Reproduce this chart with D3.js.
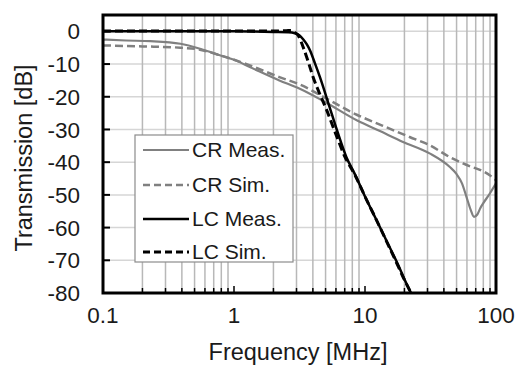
<!DOCTYPE html>
<html>
<head>
<meta charset="utf-8">
<script src="https://cdn.jsdelivr.net/npm/d3@7"></script>
<style>
  html, body { margin: 0; padding: 0; background: #fff; }
  svg { display: block; font-family: "Liberation Sans", Arial, sans-serif; }
</style>
</head>
<body>
<svg id="chart" width="516" height="365"></svg>
<script>
// ---- data ----
const crMeasFreq = [0.1, 0.15, 0.23, 0.39, 0.55, 0.78, 1.0, 1.32, 2.22, 3.15, 4.95, 8.65, 13, 19.5, 31.1, 44.2, 49.7, 55, 59.5, 64, 68, 72, 76, 79.8, 90, 100];
const crMeasDb   = [-2.5, -2.8, -3.0, -3.8, -5.3, -7.3, -8.7, -10.9, -15.0, -17.5, -21.6, -27.2, -30.5, -33.8, -37.3, -41.4, -43.5, -46.5, -50.6, -54.5, -56.7, -56.0, -54.0, -52.6, -49.5, -46.5];

const crSimFreq = [0.1, 0.2, 0.39, 0.55, 0.78, 1.32, 2.22, 3.15, 4.95, 8.65, 13, 21.9, 31.1, 44.2, 56, 89.6, 100];
const crSimDb   = [-4.3, -4.6, -5.0, -5.6, -7.3, -10.4, -14.0, -16.2, -20.3, -25.5, -28.5, -32.3, -34.8, -38.4, -40.4, -44.0, -45.5];

const lcMeasFreq = [0.1, 0.3, 1, 2, 2.6, 2.92, 3.15, 3.37, 3.6, 3.8, 4.15, 4.53, 5.35, 6.2, 7.2, 8.4, 10, 12, 15, 18, 20, 22.6];
const lcMeasDb   = [0, 0, 0, -0.2, -0.3, -0.6, -1.2, -2.4, -4.0, -5.8, -9.8, -14.0, -23.0, -31.0, -38.4, -43.8, -50.5, -57.0, -65.0, -71.6, -75.8, -80.2];

const lcSimFreq = [0.1, 0.3, 1, 2, 2.5, 2.75, 2.9, 3.1, 3.37, 3.7, 4.02, 4.5, 5.1, 6, 7, 8.4, 10, 12, 15, 18, 20, 22.8];
const lcSimDb   = [0.1, 0.1, 0.1, 0.1, 0.2, 0.3, -0.3, -1.3, -4.8, -9.5, -14.0, -19.0, -24.1, -31.5, -38.2, -44.0, -50.5, -57.0, -65.2, -72.0, -76.0, -80.5];

const xTickValues = [0.1, 1, 10, 100];
const xTickLabels = ["0.1", "1", "10", "100"];
const yTickValues = [0, -10, -20, -30, -40, -50, -60, -70, -80];
const legendLabels = ["CR Meas.", "CR Sim.", "LC Meas.", "LC Sim."];

// ---- layout ----
const svg = d3.select("#chart");
const L = 103, R = 496, T = 15, B = 293;
const x = d3.scaleLog().domain([0.1, 100]).range([L, R]);
const y = d3.scaleLinear().domain([-80, 5]).range([B, T]);

// minor values
const minors = [];
[0.1, 1, 10].forEach(d => { for (let k = 2; k <= 9; k++) minors.push(+(d * k).toFixed(3)); });

svg.append("defs").append("clipPath").attr("id", "clip")
  .append("rect").attr("x", L).attr("y", T).attr("width", R - L).attr("height", B - T);

// horizontal gridlines
svg.append("g").selectAll("line").data(yTickValues.filter(v => v > -80)).join("line")
  .attr("x1", L).attr("x2", R).attr("y1", d => y(d)).attr("y2", d => y(d))
  .attr("stroke", "#d6d6d6").attr("stroke-width", 1.5);

// vertical minor gridlines
svg.append("g").selectAll("line").data(minors).join("line")
  .attr("x1", d => x(d)).attr("x2", d => x(d)).attr("y1", T).attr("y2", B)
  .attr("stroke", "#b8b8b8").attr("stroke-width", 1.5);

// ticks (inward)
svg.append("g").selectAll("line").data(minors).join("line")
  .attr("x1", d => x(d)).attr("x2", d => x(d)).attr("y1", B).attr("y2", B - 5)
  .attr("stroke", "#000").attr("stroke-width", 1.5);
svg.append("g").selectAll("line").data(xTickValues).join("line")
  .attr("x1", d => x(d)).attr("x2", d => x(d)).attr("y1", B).attr("y2", B - 7)
  .attr("stroke", "#000").attr("stroke-width", 1.5);
svg.append("g").selectAll("line").data(yTickValues).join("line")
  .attr("x1", L).attr("x2", L + 7).attr("y1", d => y(d)).attr("y2", d => y(d))
  .attr("stroke", "#000").attr("stroke-width", 2);

// curves
const line = d3.line().x(d => x(d[0])).y(d => y(d[1])).curve(d3.curveMonotoneX);
const plot = svg.append("g").attr("clip-path", "url(#clip)");
const zip = (a, b) => a.map((v, i) => [v, b[i]]);

const series = [
  { data: zip(crMeasFreq, crMeasDb), color: "#808080", width: 2.2, dash: null },
  { data: zip(crSimFreq, crSimDb), color: "#808080", width: 2.5, dash: "8,4" },
  { data: zip(lcMeasFreq, lcMeasDb), color: "#000", width: 2.5, dash: null },
  { data: zip(lcSimFreq, lcSimDb), color: "#000", width: 3, dash: "8,4" }
];
series.forEach(s => {
  plot.append("path").attr("d", line(s.data)).attr("fill", "none")
    .attr("stroke", s.color).attr("stroke-width", s.width)
    .attr("stroke-dasharray", s.dash);
});

// legend
const lg = svg.append("g");
lg.append("rect").attr("x", 135).attr("y", 135).attr("width", 158).attr("height", 127)
  .attr("fill", "#fff").attr("stroke", "#8c8c8c").attr("stroke-width", 1.2);
const rowY = [150, 185, 219, 252];
legendLabels.forEach((lab, i) => {
  const s = series[i];
  lg.append("line").attr("x1", 143).attr("x2", 189).attr("y1", rowY[i]).attr("y2", rowY[i])
    .attr("stroke", s.color).attr("stroke-width", s.width).attr("stroke-dasharray", s.dash ? "7,4" : null);
  lg.append("text").attr("x", 192).attr("y", rowY[i]).attr("dy", "0.35em")
    .attr("font-size", 21).attr("fill", "#1a1a1a").text(lab);
});

// border
svg.append("rect").attr("x", L).attr("y", T).attr("width", R - L).attr("height", B - T)
  .attr("fill", "none").attr("stroke", "#000").attr("stroke-width", 3);

// tick labels
svg.append("g").selectAll("text").data(xTickValues).join("text")
  .attr("x", d => x(d)).attr("y", 323).attr("text-anchor", "middle")
  .attr("font-size", 22.5).attr("fill", "#1a1a1a").text((d, i) => xTickLabels[i]);
svg.append("g").selectAll("text").data(yTickValues).join("text")
  .attr("x", 80).attr("y", d => y(d)).attr("dy", "0.36em").attr("text-anchor", "end")
  .attr("font-size", 22.5).attr("fill", "#1a1a1a").text(d => d);

// axis titles
svg.append("text").attr("x", 298).attr("y", 360).attr("text-anchor", "middle")
  .attr("font-size", 23.5).attr("fill", "#1a1a1a").text("Frequency [MHz]");
svg.append("text").attr("transform", "translate(32,158) rotate(-90)").attr("text-anchor", "middle")
  .attr("font-size", 23.5).attr("fill", "#1a1a1a").text("Transmission [dB]");
</script>
</body>
</html>
